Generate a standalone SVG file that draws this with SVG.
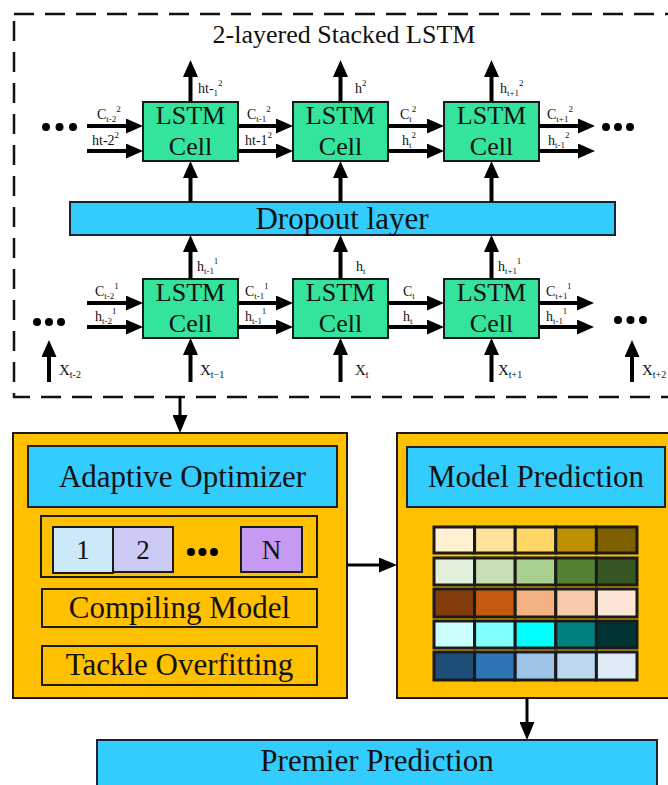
<svg xmlns="http://www.w3.org/2000/svg" width="668" height="785" viewBox="0 0 668 785">
<defs>
<style>
.t{font-family:"Liberation Serif","Times New Roman",serif;fill:#111}
.big{font-size:31px}
.cell{font-size:26px}
.lbl{font-size:14px}
.xl{font-size:15px}
.s{font-size:9px}
.sx{font-size:10px}
.green{fill:#34E49C;stroke:#1a1a1a;stroke-width:2}
.blue{fill:#33CCFF;stroke:#1a2430;stroke-width:2}
.orange{fill:#FFC000;stroke:#1a1a1a;stroke-width:2}
.thick{stroke:#000;stroke-width:4;fill:none;marker-end:url(#ah)}
.thin{stroke:#000;stroke-width:3;fill:none;marker-end:url(#ah2)}
.gc{stroke:#1a1a1a;stroke-width:3}
</style>
<marker id="ah" markerUnits="userSpaceOnUse" markerWidth="17" markerHeight="15" refX="2" refY="7.5" orient="auto" viewBox="0 0 17 15"><path d="M0,0 L17,7.5 L0,15 z" fill="#000"/></marker>
<marker id="ah2" markerUnits="userSpaceOnUse" markerWidth="18" markerHeight="15" refX="2" refY="7.5" orient="auto" viewBox="0 0 18 15"><path d="M0,0 L18,7.5 L0,15 z" fill="#000"/></marker>
</defs>
<rect width="668" height="785" fill="#fff"/>

<g id="stacked-lstm">
<rect x="14" y="14" width="700" height="383" fill="none" stroke="#111" stroke-width="2.5" stroke-dasharray="20 11"/>
<text class="t" x="344" y="43" font-size="26" text-anchor="middle">2-layered Stacked LSTM</text>
</g>

<g id="cell-top-1"><rect class="green" x="143" y="102" width="95" height="59"/><text class="t cell" x="190.5" y="124" text-anchor="middle">LSTM</text><text class="t cell" x="190.5" y="155" text-anchor="middle">Cell</text></g>
<g id="cell-top-2"><rect class="green" x="293" y="102" width="95" height="59"/><text class="t cell" x="340.5" y="124" text-anchor="middle">LSTM</text><text class="t cell" x="340.5" y="155" text-anchor="middle">Cell</text></g>
<g id="cell-top-3"><rect class="green" x="444" y="102" width="95" height="59"/><text class="t cell" x="491.5" y="124" text-anchor="middle">LSTM</text><text class="t cell" x="491.5" y="155" text-anchor="middle">Cell</text></g>

<g id="dropout"><rect class="blue" x="70" y="202" width="545" height="33"/><text class="t big" x="342" y="229" text-anchor="middle">Dropout layer</text></g>

<g id="cell-bot-1"><rect class="green" x="143" y="279" width="95" height="59"/><text class="t cell" x="190.5" y="301" text-anchor="middle">LSTM</text><text class="t cell" x="190.5" y="332" text-anchor="middle">Cell</text></g>
<g id="cell-bot-2"><rect class="green" x="293" y="279" width="95" height="59"/><text class="t cell" x="340.5" y="301" text-anchor="middle">LSTM</text><text class="t cell" x="340.5" y="332" text-anchor="middle">Cell</text></g>
<g id="cell-bot-3"><rect class="green" x="444" y="279" width="95" height="59"/><text class="t cell" x="491.5" y="301" text-anchor="middle">LSTM</text><text class="t cell" x="491.5" y="332" text-anchor="middle">Cell</text></g>

<g id="dots" fill="#000">
<circle cx="46" cy="127" r="4"/><circle cx="59.5" cy="127" r="4"/><circle cx="73" cy="127" r="4"/>
<circle cx="606" cy="127" r="4"/><circle cx="618" cy="127" r="4"/><circle cx="630" cy="127" r="4"/>
<circle cx="37" cy="322" r="4"/><circle cx="49" cy="322" r="4"/><circle cx="61" cy="322" r="4"/>
<circle cx="618" cy="320" r="4"/><circle cx="630.5" cy="320" r="4"/><circle cx="643" cy="320" r="4"/>
</g>

<g id="labels-top">
<text class="t lbl" x="198" y="93">ht-<tspan class="s" dy="3">1</tspan><tspan class="s" dy="-10">2</tspan></text>
<text class="t lbl" x="97" y="119">C<tspan class="s" dy="3">t-2</tspan><tspan class="s" dy="-10">2</tspan></text>
<text class="t lbl" x="92" y="145">ht-2<tspan class="s" dy="-7">2</tspan></text>
<text class="t lbl" x="247" y="119">C<tspan class="s" dy="3">t-1</tspan><tspan class="s" dy="-10">2</tspan></text>
<text class="t lbl" x="245" y="145">ht-1<tspan class="s" dy="-7">2</tspan></text>
<text class="t lbl" x="355" y="93">h<tspan class="s" dy="-7">2</tspan></text>
<text class="t lbl" x="400" y="119">C<tspan class="s" dy="3">t</tspan><tspan class="s" dy="-10">2</tspan></text>
<text class="t lbl" x="402" y="145">h<tspan class="s" dy="3">t</tspan><tspan class="s" dy="-10">2</tspan></text>
<text class="t lbl" x="500" y="93">h<tspan class="s" dy="3">t+1</tspan><tspan class="s" dy="-10">2</tspan></text>
<text class="t lbl" x="547" y="119">C<tspan class="s" dy="3">t+1</tspan><tspan class="s" dy="-10">2</tspan></text>
<text class="t lbl" x="548" y="145">h<tspan class="s" dy="3">t-1</tspan><tspan class="s" dy="-10">2</tspan></text>
</g>

<g id="labels-bottom">
<text class="t lbl" x="197" y="271">h<tspan class="s" dy="3">t-1</tspan><tspan class="s" dy="-10">1</tspan></text>
<text class="t lbl" x="95" y="296">C<tspan class="s" dy="3">t-2</tspan><tspan class="s" dy="-10">1</tspan></text>
<text class="t lbl" x="95" y="321">h<tspan class="s" dy="3">t-2</tspan><tspan class="s" dy="-10">1</tspan></text>
<text class="t lbl" x="245" y="296">C<tspan class="s" dy="3">t-1</tspan><tspan class="s" dy="-10">1</tspan></text>
<text class="t lbl" x="245" y="321">h<tspan class="s" dy="3">t-1</tspan><tspan class="s" dy="-10">1</tspan></text>
<text class="t lbl" x="356" y="271">h<tspan class="s" dy="3">t</tspan></text>
<text class="t lbl" x="403" y="296">C<tspan class="s" dy="3">t</tspan></text>
<text class="t lbl" x="403" y="321">h<tspan class="s" dy="3">t</tspan></text>
<text class="t lbl" x="498" y="271">h<tspan class="s" dy="3">t+1</tspan><tspan class="s" dy="-10">1</tspan></text>
<text class="t lbl" x="546" y="296">C<tspan class="s" dy="3">t+1</tspan><tspan class="s" dy="-10">1</tspan></text>
<text class="t lbl" x="546" y="321">h<tspan class="s" dy="3">t-1</tspan><tspan class="s" dy="-10">1</tspan></text>
<text class="t xl" x="59" y="375">X<tspan class="sx" dy="3">t-2</tspan></text>
<text class="t xl" x="200" y="375">X<tspan class="sx" dy="3">t−1</tspan></text>
<text class="t xl" x="355" y="375">X<tspan class="sx" dy="3">t</tspan></text>
<text class="t xl" x="498" y="375">X<tspan class="sx" dy="3">t+1</tspan></text>
<text class="t xl" x="642" y="375">X<tspan class="sx" dy="3">t+2</tspan></text>
</g>

<g id="left-box">
<rect class="orange" x="13" y="433" width="334" height="265"/>
<rect class="blue" x="28" y="446" width="309" height="61"/>
<text class="t big" x="182.5" y="487" text-anchor="middle">Adaptive Optimizer</text>
<rect class="orange" x="41" y="516" width="276" height="61"/>
<rect x="53" y="527" width="60" height="46" fill="#CDE9F9" stroke="#1a1a1a" stroke-width="2"/>
<text class="t" x="83" y="559" font-size="27" text-anchor="middle">1</text>
<rect x="113" y="527" width="60" height="45" fill="#CACAF5" stroke="#1a1a1a" stroke-width="2"/>
<text class="t" x="143" y="559" font-size="27" text-anchor="middle">2</text>
<circle cx="191" cy="552" r="4"/><circle cx="202.5" cy="552" r="4"/><circle cx="214" cy="552" r="4"/>
<rect x="241" y="527" width="61" height="45" fill="#C69AF2" stroke="#1a1a1a" stroke-width="2"/>
<text class="t" x="271.5" y="559" font-size="27" text-anchor="middle">N</text>
<rect class="orange" x="42" y="589" width="275" height="38"/>
<text class="t big" x="179.5" y="618" text-anchor="middle">Compiling Model</text>
<rect class="orange" x="42" y="646" width="275" height="39"/>
<text class="t big" x="179.5" y="675" text-anchor="middle">Tackle Overfitting</text>
</g>

<g id="right-box">
<rect class="orange" x="397" y="433" width="300" height="265"/>
<rect class="blue" x="407" y="447" width="258" height="60"/>
<text class="t big" x="536" y="487" text-anchor="middle">Model Prediction</text>
<g class="gc">
<rect x="434" y="527" width="40.6" height="26" fill="#FFF0CF"/><rect x="474.6" y="527" width="40.6" height="26" fill="#FFE29C"/><rect x="515.2" y="527" width="40.6" height="26" fill="#FFD666"/><rect x="555.8" y="527" width="40.6" height="26" fill="#BF9000"/><rect x="596.4" y="527" width="40.6" height="26" fill="#7F6000"/>
<rect x="434" y="558" width="40.6" height="27" fill="#E2EFDA"/><rect x="474.6" y="558" width="40.6" height="27" fill="#C6E0B4"/><rect x="515.2" y="558" width="40.6" height="27" fill="#A9D08E"/><rect x="555.8" y="558" width="40.6" height="27" fill="#548235"/><rect x="596.4" y="558" width="40.6" height="27" fill="#375623"/>
<rect x="434" y="589" width="40.6" height="28" fill="#843C0C"/><rect x="474.6" y="589" width="40.6" height="28" fill="#C55A11"/><rect x="515.2" y="589" width="40.6" height="28" fill="#F4B183"/><rect x="555.8" y="589" width="40.6" height="28" fill="#F8CBAD"/><rect x="596.4" y="589" width="40.6" height="28" fill="#FBE5D6"/>
<rect x="434" y="621" width="40.6" height="27" fill="#CCFFFF"/><rect x="474.6" y="621" width="40.6" height="27" fill="#7FFFFF"/><rect x="515.2" y="621" width="40.6" height="27" fill="#00FFFF"/><rect x="555.8" y="621" width="40.6" height="27" fill="#008080"/><rect x="596.4" y="621" width="40.6" height="27" fill="#003333"/>
<rect x="434" y="652" width="40.6" height="28" fill="#1F4E79"/><rect x="474.6" y="652" width="40.6" height="28" fill="#2E75B6"/><rect x="515.2" y="652" width="40.6" height="28" fill="#9DC3E6"/><rect x="555.8" y="652" width="40.6" height="28" fill="#BDD7EE"/><rect x="596.4" y="652" width="40.6" height="28" fill="#DEEBF7"/>
</g>
</g>

<g id="premier">
<rect class="blue" x="97" y="740" width="560" height="60"/>
<text class="t big" x="377" y="771" text-anchor="middle">Premier Prediction</text>
</g>

<g id="connectors">
<line class="thick" x1="87" y1="126" x2="128" y2="126"/>
<line class="thick" x1="87" y1="151" x2="128" y2="151"/>
<line class="thick" x1="238" y1="126" x2="278" y2="126"/>
<line class="thick" x1="238" y1="151" x2="278" y2="151"/>
<line class="thick" x1="388" y1="126" x2="429" y2="126"/>
<line class="thick" x1="388" y1="151" x2="429" y2="151"/>
<line class="thick" x1="539" y1="126" x2="580" y2="126"/>
<line class="thick" x1="539" y1="151" x2="580" y2="151"/>
<line class="thick" x1="190.5" y1="102" x2="190.5" y2="75"/>
<line class="thick" x1="340.5" y1="102" x2="340.5" y2="75"/>
<line class="thick" x1="491.5" y1="102" x2="491.5" y2="75"/>
<line class="thick" x1="190.5" y1="202" x2="190.5" y2="176"/>
<line class="thick" x1="340.5" y1="202" x2="340.5" y2="176"/>
<line class="thick" x1="491.5" y1="202" x2="491.5" y2="176"/>
<line class="thick" x1="190.5" y1="279" x2="190.5" y2="250"/>
<line class="thick" x1="340.5" y1="279" x2="340.5" y2="250"/>
<line class="thick" x1="491.5" y1="279" x2="491.5" y2="250"/>
<line class="thick" x1="87" y1="303" x2="128" y2="303"/>
<line class="thick" x1="87" y1="327" x2="128" y2="327"/>
<line class="thick" x1="238" y1="303" x2="278" y2="303"/>
<line class="thick" x1="238" y1="327" x2="278" y2="327"/>
<line class="thick" x1="388" y1="303" x2="429" y2="303"/>
<line class="thick" x1="388" y1="327" x2="429" y2="327"/>
<line class="thick" x1="539" y1="303" x2="579" y2="303"/>
<line class="thick" x1="539" y1="327" x2="579" y2="327"/>
<line class="thick" x1="49" y1="382" x2="49" y2="355"/>
<line class="thick" x1="190.5" y1="382" x2="190.5" y2="353"/>
<line class="thick" x1="340.5" y1="382" x2="340.5" y2="353"/>
<line class="thick" x1="491.5" y1="382" x2="491.5" y2="353"/>
<line class="thick" x1="632" y1="382" x2="632" y2="355"/>
<line class="thin" x1="180" y1="396" x2="180" y2="417"/>
<line class="thin" x1="347" y1="565" x2="381" y2="565"/>
<line class="thin" x1="527" y1="698" x2="527" y2="724"/>
</g>
</svg>
